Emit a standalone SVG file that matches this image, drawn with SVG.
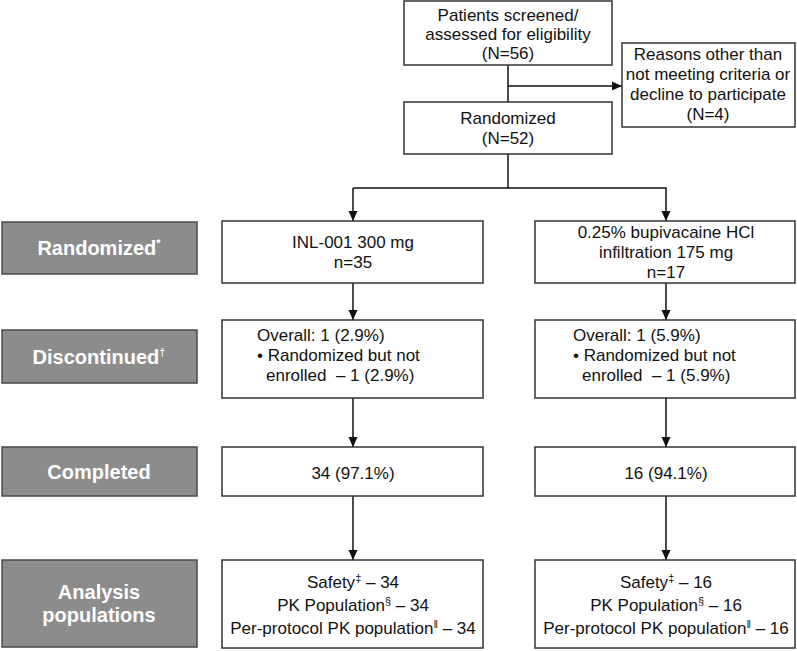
<svg xmlns="http://www.w3.org/2000/svg" width="797" height="651" viewBox="0 0 797 651">
<defs>
<marker id="ah" viewBox="0 0 10 10" refX="10" refY="5" markerWidth="10" markerHeight="10" markerUnits="userSpaceOnUse" orient="auto">
<path d="M0,0.5 L10,5 L0,9.5 z" fill="#111"/>
</marker>
<style>
.box{fill:#fff;stroke:#333;stroke-width:1.5}
.gbox{fill:#8c8c8c;stroke:#4a4a4a;stroke-width:1.5}
.t{font-family:"Liberation Sans",Arial,sans-serif;font-size:17px;fill:#111;text-anchor:middle}
.tl{font-family:"Liberation Sans",Arial,sans-serif;font-size:17px;fill:#111}
.g{font-family:"Liberation Sans",Arial,sans-serif;font-size:20px;font-weight:bold;fill:#fff;text-anchor:middle}
.c{fill:none;stroke:#111;stroke-width:1.5}
.sup{font-size:11px}
</style>
</defs>
<rect width="797" height="651" fill="#fff"/>
<g id="connectors">
<line class="c" x1="508" y1="65" x2="508" y2="102"/>
<line class="c" x1="508" y1="86" x2="622" y2="86" marker-end="url(#ah)"/>
<line class="c" x1="508" y1="154" x2="508" y2="188"/>
<polyline class="c" points="353,188 666,188 666,221" marker-end="url(#ah)"/>
<line class="c" x1="353" y1="188" x2="353" y2="221" marker-end="url(#ah)"/>
<line class="c" x1="353" y1="283" x2="353" y2="320" marker-end="url(#ah)"/>
<line class="c" x1="666" y1="283" x2="666" y2="320" marker-end="url(#ah)"/>
<line class="c" x1="353" y1="398" x2="353" y2="447" marker-end="url(#ah)"/>
<line class="c" x1="666" y1="398" x2="666" y2="447" marker-end="url(#ah)"/>
<line class="c" x1="353" y1="496" x2="353" y2="560" marker-end="url(#ah)"/>
<line class="c" x1="666" y1="496" x2="666" y2="560" marker-end="url(#ah)"/>
</g>
<g id="screened">
<rect class="box" x="404" y="1" width="208" height="64"/>
<text class="t" x="508" y="21">Patients screened/</text>
<text class="t" x="508" y="40">assessed for eligibility</text>
<text class="t" x="508" y="59">(N=56)</text>
</g>
<g id="excluded">
<rect class="box" x="622" y="43" width="173" height="84"/>
<text class="t" x="708" y="60">Reasons other than</text>
<text class="t" x="708" y="80">not meeting criteria or</text>
<text class="t" x="708" y="100">decline to participate</text>
<text class="t" x="708" y="120">(N=4)</text>
</g>
<g id="randomized">
<rect class="box" x="404" y="102" width="208" height="52"/>
<text class="t" x="508" y="124">Randomized</text>
<text class="t" x="508" y="144">(N=52)</text>
</g>
<g id="label-randomized">
<rect class="gbox" x="2" y="222" width="195" height="52"/>
<text class="g" x="99" y="255">Randomized<tspan class="sup" dy="-8">*</tspan></text>
</g>
<g id="label-discontinued">
<rect class="gbox" x="2" y="330" width="195" height="53"/>
<text class="g" x="99" y="364">Discontinued<tspan class="sup" dy="-8">†</tspan></text>
</g>
<g id="label-completed">
<rect class="gbox" x="2" y="447" width="195" height="49"/>
<text class="g" x="99" y="479">Completed</text>
</g>
<g id="label-analysis">
<rect class="gbox" x="2" y="560" width="195" height="87"/>
<text class="g" x="99" y="599">Analysis</text>
<text class="g" x="99" y="622">populations</text>
</g>
<g id="inl-arm">
<rect class="box" x="222" y="221" width="261" height="62"/>
<text class="t" x="353" y="248">INL-001 300 mg</text>
<text class="t" x="353" y="268">n=35</text>
</g>
<g id="bupi-arm">
<rect class="box" x="535" y="221" width="260" height="62"/>
<text class="t" x="666" y="238">0.25% bupivacaine HCl</text>
<text class="t" x="666" y="258">infiltration 175 mg</text>
<text class="t" x="666" y="278">n=17</text>
</g>
<g id="inl-disc">
<rect class="box" x="222" y="320" width="261" height="78"/>
<text class="tl" x="257" y="341">Overall: 1 (2.9%)</text>
<text class="tl" x="257" y="361">• Randomized but not</text>
<text class="tl" x="266" y="381">enrolled&#160; – 1 (2.9%)</text>
</g>
<g id="bupi-disc">
<rect class="box" x="535" y="320" width="260" height="78"/>
<text class="tl" x="573" y="341">Overall: 1 (5.9%)</text>
<text class="tl" x="573" y="361">• Randomized but not</text>
<text class="tl" x="582" y="381">enrolled&#160; – 1 (5.9%)</text>
</g>
<g id="inl-comp">
<rect class="box" x="222" y="447" width="261" height="49"/>
<text class="t" x="353" y="479">34 (97.1%)</text>
</g>
<g id="bupi-comp">
<rect class="box" x="535" y="447" width="260" height="49"/>
<text class="t" x="666" y="479">16 (94.1%)</text>
</g>
<g id="inl-pop">
<rect class="box" x="222" y="560" width="261" height="88"/>
<text class="t" x="353" y="588">Safety<tspan class="sup" dy="-6">‡</tspan><tspan dy="6"> – 34</tspan></text>
<text class="t" x="353" y="611">PK Population<tspan class="sup" dy="-6">§</tspan><tspan dy="6"> – 34</tspan></text>
<text class="t" x="353" y="634">Per-protocol PK population<tspan class="sup" dy="-6">‖</tspan><tspan dy="6"> – 34</tspan></text>
</g>
<g id="bupi-pop">
<rect class="box" x="535" y="560" width="260" height="88"/>
<text class="t" x="666" y="588">Safety<tspan class="sup" dy="-6">‡</tspan><tspan dy="6"> – 16</tspan></text>
<text class="t" x="666" y="611">PK Population<tspan class="sup" dy="-6">§</tspan><tspan dy="6"> – 16</tspan></text>
<text class="t" x="666" y="634">Per-protocol PK population<tspan class="sup" dy="-6">‖</tspan><tspan dy="6"> – 16</tspan></text>
</g>
</svg>
